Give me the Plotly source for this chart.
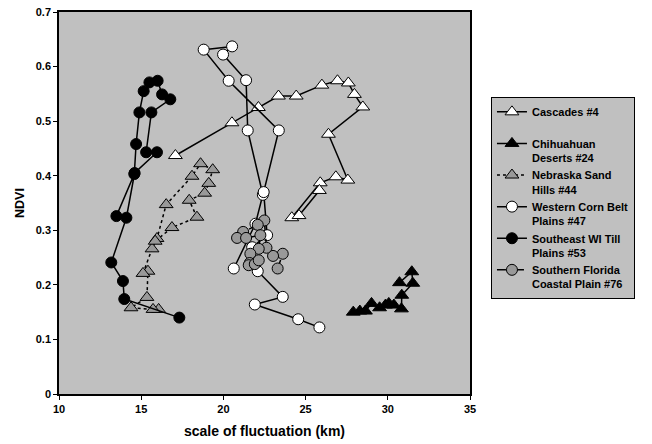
import plotly.graph_objects as go

# ---- data ----
casc_x = [17.08, 20.52, 22.13, 23.35, 24.43, 25.99, 26.94, 27.60, 27.97, 28.48, 26.39, 27.57, 26.84, 25.89, 24.16, 24.60, 25.84]
casc_y = [0.437, 0.497, 0.525, 0.546, 0.546, 0.566, 0.574, 0.570, 0.549, 0.526, 0.476, 0.392, 0.398, 0.387, 0.323, 0.327, 0.373]

chih_x = [27.90, 28.30, 28.64, 29.01, 29.50, 29.86, 30.06, 30.37, 30.83, 30.85, 31.52, 31.46, 30.71]
chih_y = [0.150, 0.152, 0.152, 0.166, 0.158, 0.163, 0.166, 0.163, 0.156, 0.181, 0.203, 0.224, 0.204]

nebr_x = [16.06, 15.72, 14.38, 15.35, 15.41, 15.11, 15.66, 15.96, 16.52, 18.09, 18.61, 19.35, 19.11, 18.86, 17.92, 18.39, 16.87, 15.85]
nebr_y = [0.155, 0.155, 0.158, 0.177, 0.225, 0.221, 0.266, 0.285, 0.347, 0.399, 0.422, 0.411, 0.386, 0.368, 0.355, 0.324, 0.305, 0.280]

wcb_x = [20.63, 21.95, 22.40, 21.48, 21.38, 19.98, 20.53, 18.80, 20.32, 23.37, 22.45, 22.66, 21.75, 22.09, 23.61, 21.91, 24.55, 25.84]
wcb_y = [0.230, 0.312, 0.365, 0.483, 0.575, 0.622, 0.637, 0.631, 0.574, 0.483, 0.370, 0.291, 0.269, 0.225, 0.178, 0.164, 0.137, 0.122]

sewi_x = [13.49, 14.58, 14.69, 14.89, 15.15, 15.50, 16.00, 16.27, 16.77, 15.62, 15.30, 15.96, 14.60, 14.10, 13.18, 13.89, 13.97, 17.32]
sewi_y = [0.326, 0.403, 0.458, 0.516, 0.555, 0.571, 0.574, 0.549, 0.540, 0.516, 0.443, 0.443, 0.405, 0.323, 0.241, 0.207, 0.174, 0.140]

sfl_x = [23.30, 23.61, 23.02, 22.62, 22.49, 22.09, 21.20, 20.83, 21.38, 22.25, 22.15, 21.64, 21.60, 21.54, 21.91, 22.15]
sfl_y = [0.230, 0.257, 0.253, 0.268, 0.318, 0.310, 0.297, 0.286, 0.286, 0.291, 0.266, 0.257, 0.240, 0.236, 0.238, 0.245]

names = ["Cascades #4<br> ", "Chihuahuan<br>Deserts #24", "Nebraska Sand<br>Hills #44",
         "Western Corn Belt<br>Plains #47", "Southeast WI Till<br>Plains #53",
         "Southern Florida<br>Coastal Plain #76"]

x_ticks = [10, 15, 20, 25, 30, 35]
y_ticks = [0, 0.1, 0.2, 0.3, 0.4, 0.5, 0.6, 0.7]

FONT = "Arial, 'Liberation Sans', sans-serif"

series = [
    (casc_x, casc_y, "triangle-up", "white", "solid"),
    (chih_x, chih_y, "triangle-up", "black", "solid"),
    (nebr_x, nebr_y, "triangle-up", "#999999", "dot"),
    (wcb_x, wcb_y, "circle", "white", "solid"),
    (sewi_x, sewi_y, "circle", "black", "solid"),
    (sfl_x, sfl_y, "circle", "#999999", "dash"),
]

fig = go.Figure()
for (xs, ys, sym, col, dash), nm in zip(series, names):
    fig.add_trace(go.Scatter(
        x=xs, y=ys, name=nm, mode="lines+markers",
        line=dict(color="black", width=1.5, dash=dash),
        marker=dict(symbol=sym, size=11 if sym == "circle" else 12, color=col,
                    line=dict(color="black", width=1)),
    ))

fig.update_layout(
    width=652, height=444,
    margin=dict(l=59, r=182, t=12, b=50, autoexpand=False),
    paper_bgcolor="white", plot_bgcolor="#C0C0C0",
    font=dict(family=FONT, size=11, color="black"),
    legend=dict(
        x=1.051, y=0.777, xanchor="left", yanchor="top",
        bgcolor="#C0C0C0", bordercolor="black", borderwidth=1,
        font=dict(family=FONT, size=11, color="black", weight="bold"),
        valign="top", tracegroupgap=0, itemwidth=30,
    ),
    showlegend=True,
)
fig.update_xaxes(
    range=[10, 35], tickvals=x_ticks, ticktext=[str(v) for v in x_ticks],
    showgrid=False, zeroline=False, showline=True, mirror=True, automargin=False,
    linecolor="black", linewidth=1.5, ticks="outside", ticklen=4, tickcolor="black",
    tickfont=dict(family=FONT, size=11, weight="bold"),
    title=dict(text="<b>scale of fluctuation (km)</b>", font=dict(family=FONT, size=14), standoff=12),
)
fig.update_yaxes(
    range=[0, 0.7], tickvals=y_ticks, ticktext=["0"] + [f"{v:.1f}" for v in y_ticks[1:]],
    showgrid=False, zeroline=False, showline=True, mirror=True, automargin=False,
    linecolor="black", linewidth=1.5, ticks="outside", ticklen=4, tickcolor="black",
    tickfont=dict(family=FONT, size=11, weight="bold"),
    title=dict(text="<b>NDVI</b>", font=dict(family=FONT, size=12.5), standoff=8),
)

fig.write_html("out.html")
